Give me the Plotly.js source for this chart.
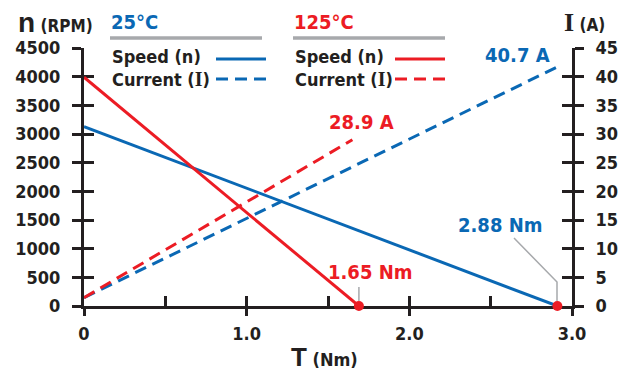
<!DOCTYPE html>
<html><head><meta charset="utf-8">
<script src="https://cdn.plot.ly/plotly-3.0.1.min.js"></script>
<style>html,body{margin:0;padding:0;background:#fff}#chart{width:619px;height:373px}</style>
</head><body><div id="chart"></div>
<script>
// ---- data ----
const torqueSpeed25 = [0, 2.91];
const speed25 = [3130, 0];
const torqueSpeed125 = [0, 1.69];
const speed125 = [3990, 0];
const torqueCurrent25 = [0, 2.91];
const current25 = [1.45, 41.7];
const torqueCurrent125 = [0, 1.65];
const current125 = [1.45, 29.0];
const stallTorque = [1.69, 2.91];
const stallSpeed = [0, 0];
const stallLabels = ['1.65 Nm', '2.88 Nm'];
const currentLabels = ['28.9 A', '40.7 A'];
const speedTicks = [0, 500, 1000, 1500, 2000, 2500, 3000, 3500, 4000, 4500];
const currentTicks = [0, 5, 10, 15, 20, 25, 30, 35, 40, 45];
const torqueTicks = [0, 1, 2, 3];
const torqueTickText = ['0', '1.0', '2.0', '3.0'];
const torqueMinorTicks = [0.5, 1, 1.5, 2, 2.5];
const groupTitles = ['25°C', '125°C'];

// ---- styling ----
const BLUE = '#0a68b4', RED = '#ec1c24', GRAY = '#a7a9ac', INK = '#231f20';
const NARROW = '"Liberation Sans Narrow", "DejaVu Sans Condensed", "Arial Narrow", sans-serif';
const W = 619, H = 373, L = 84, R = 47, T = 48, B = 67;
const pw = W - L - R, ph = H - T - B;
const px = v => (v - L) / pw;
const py = v => (H - B - v) / ph;

const traces = [
  {x: torqueSpeed25, y: speed25, mode: 'lines', line: {color: BLUE, width: 3}, xaxis: 'x', yaxis: 'y'},
  {x: torqueSpeed125, y: speed125, mode: 'lines', line: {color: RED, width: 3}, xaxis: 'x', yaxis: 'y'},
  {x: torqueCurrent25, y: current25, mode: 'lines', line: {color: BLUE, width: 3, dash: '12px,7px'}, xaxis: 'x', yaxis: 'y2'},
  {x: torqueCurrent125, y: current125, mode: 'lines', line: {color: RED, width: 3, dash: '12px,7px'}, xaxis: 'x', yaxis: 'y2'},
  {x: [0], y: [0], mode: 'markers', marker: {opacity: 0}, xaxis: 'x2', yaxis: 'y4', hoverinfo: 'skip'},
  {x: stallTorque, y: stallSpeed, mode: 'markers', marker: {color: RED, size: 10, line: {width: 0}}, cliponaxis: false, xaxis: 'x2', yaxis: 'y3'}
];

const tickFont = {family: NARROW, size: 18, color: INK, weight: 'bold'};
const yBase = {range: [0, 4500], tickvals: speedTicks, showgrid: false, zeroline: false, layer: 'below traces',
  showline: true, linewidth: 3, linecolor: INK, tickwidth: 3, tickcolor: INK, fixedrange: true};

const layout = {
  width: W, height: H, margin: {l: L, r: R, t: T, b: B},
  paper_bgcolor: '#fff', plot_bgcolor: '#fff', showlegend: false,
  font: {family: NARROW, color: INK},
  xaxis: {range: [0, 3], tickvals: torqueMinorTicks, ticks: 'inside', ticklen: 10, tickwidth: 3, tickcolor: INK, layer: 'below traces',
    showticklabels: false, showgrid: false, zeroline: false, showline: true, linewidth: 3, linecolor: INK},
  xaxis2: {range: [0, 3], overlaying: 'x', anchor: 'y', side: 'bottom', tickvals: torqueTicks, ticktext: torqueTickText, layer: 'below traces',
    ticks: 'outside', ticklen: 9, tickwidth: 3, tickcolor: INK, tickfont: tickFont, ticklabelstandoff: 2,
    showgrid: false, zeroline: false, showline: false},
  yaxis: Object.assign({}, yBase, {ticks: 'outside', ticklen: 9, tickfont: tickFont, ticklabelstandoff: 8}),
  yaxis3: Object.assign({}, yBase, {overlaying: 'y', side: 'left', anchor: 'x', ticks: 'inside', ticklen: 10, showticklabels: false}),
  yaxis2: {range: [0, 45], tickvals: currentTicks, overlaying: 'y', side: 'right', anchor: 'x', ticks: 'outside', ticklen: 9, layer: 'below traces',
    tickwidth: 3, tickcolor: INK, tickfont: tickFont, ticklabelstandoff: 8, showgrid: false, zeroline: false,
    showline: true, linewidth: 3, linecolor: INK},
  yaxis4: {range: [0, 45], tickvals: currentTicks, overlaying: 'y', side: 'right', anchor: 'x', ticks: 'inside', ticklen: 10, layer: 'below traces',
    tickwidth: 3, tickcolor: INK, showticklabels: false, showgrid: false, zeroline: false, showline: false},
  shapes: [
    // legend rules and samples
    {type: 'line', xref: 'paper', yref: 'paper', x0: px(110), x1: px(262), y0: py(38), y1: py(38), line: {color: GRAY, width: 3.5}},
    {type: 'line', xref: 'paper', yref: 'paper', x0: px(293), x1: px(445), y0: py(38), y1: py(38), line: {color: GRAY, width: 3.5}},
    {type: 'line', xref: 'paper', yref: 'paper', x0: px(216), x1: px(266), y0: py(59), y1: py(59), line: {color: BLUE, width: 3}},
    {type: 'line', xref: 'paper', yref: 'paper', x0: px(216), x1: px(268), y0: py(79), y1: py(79), line: {color: BLUE, width: 3, dash: '12px,7px'}},
    {type: 'line', xref: 'paper', yref: 'paper', x0: px(395), x1: px(445), y0: py(59), y1: py(59), line: {color: RED, width: 3}},
    {type: 'line', xref: 'paper', yref: 'paper', x0: px(395), x1: px(447), y0: py(79), y1: py(79), line: {color: RED, width: 3, dash: '12px,7px'}},
    // leaders
    {type: 'line', xref: 'x', yref: 'paper', x0: stallTorque[0], x1: stallTorque[0], y0: py(287), y1: py(301), line: {color: GRAY, width: 1.5}, layer: 'below'},
    {type: 'path', xref: 'paper', yref: 'paper', layer: 'below', line: {color: GRAY, width: 1.5},
      path: `M ${px(514)} ${py(238)} L ${px(557)} ${py(282)} L ${px(557)} ${py(301)}`}
  ],
  annotations: [
    {xref: 'paper', yref: 'paper', x: px(16), y: py(22), xanchor: 'left', yanchor: 'middle', showarrow: false,
      text: '<span style="font-family:Liberation Sans;font-size:28px">n</span><span style="font-size:17px"> (RPM)</span>',
      font: {family: NARROW, size: 17, color: INK, weight: 'bold'}},
    {xref: 'paper', yref: 'paper', x: px(562), y: py(22), xanchor: 'left', yanchor: 'middle', showarrow: false,
      text: '<span style="font-family:Liberation Serif;font-size:26px">I</span><span style="font-size:17px"> (A)</span>',
      font: {family: NARROW, size: 17, color: INK, weight: 'bold'}},
    {xref: 'paper', yref: 'paper', x: px(289), y: py(357), xanchor: 'left', yanchor: 'middle', showarrow: false,
      text: '<span style="font-family:Liberation Sans;font-size:26px">T</span><span style="font-size:18px"> (Nm)</span>',
      font: {family: NARROW, size: 18, color: INK, weight: 'bold'}},
    {xref: 'paper', yref: 'paper', x: px(109), y: py(22), xanchor: 'left', yanchor: 'middle', showarrow: false,
      text: groupTitles[0], font: {family: NARROW, size: 20, color: BLUE, weight: 'bold'}},
    {xref: 'paper', yref: 'paper', x: px(292), y: py(22), xanchor: 'left', yanchor: 'middle', showarrow: false,
      text: groupTitles[1], font: {family: NARROW, size: 20, color: RED, weight: 'bold'}},
    {xref: 'paper', yref: 'paper', x: px(110), y: py(57), xanchor: 'left', yanchor: 'middle', showarrow: false,
      text: 'Speed (n)', font: {family: NARROW, size: 18, color: INK, weight: 'bold'}},
    {xref: 'paper', yref: 'paper', x: px(110), y: py(79), xanchor: 'left', yanchor: 'middle', showarrow: false,
      text: 'Current (<span style="font-family:Liberation Serif;font-size:20px">I</span>)', font: {family: NARROW, size: 18, color: INK, weight: 'bold'}},
    {xref: 'paper', yref: 'paper', x: px(293), y: py(57), xanchor: 'left', yanchor: 'middle', showarrow: false,
      text: 'Speed (n)', font: {family: NARROW, size: 18, color: INK, weight: 'bold'}},
    {xref: 'paper', yref: 'paper', x: px(293), y: py(79), xanchor: 'left', yanchor: 'middle', showarrow: false,
      text: 'Current (<span style="font-family:Liberation Serif;font-size:20px">I</span>)', font: {family: NARROW, size: 18, color: INK, weight: 'bold'}},
    {xref: 'paper', yref: 'paper', x: px(552), y: py(55), xanchor: 'right', yanchor: 'middle', showarrow: false,
      text: currentLabels[1], font: {family: NARROW, size: 20, color: BLUE, weight: 'bold'}},
    {xref: 'paper', yref: 'paper', x: px(361), y: py(122), xanchor: 'center', yanchor: 'middle', showarrow: false,
      text: currentLabels[0], font: {family: NARROW, size: 20, color: RED, weight: 'bold'}},
    {xref: 'paper', yref: 'paper', x: px(500), y: py(225), xanchor: 'center', yanchor: 'middle', showarrow: false,
      text: stallLabels[1], font: {family: NARROW, size: 20, color: BLUE, weight: 'bold'}},
    {xref: 'paper', yref: 'paper', x: px(370), y: py(272), xanchor: 'center', yanchor: 'middle', showarrow: false,
      text: stallLabels[0], font: {family: NARROW, size: 20, color: RED, weight: 'bold'}}
  ]
};

Plotly.newPlot('chart', traces, layout, {staticPlot: true, displayModeBar: false});
</script>
</body></html>
